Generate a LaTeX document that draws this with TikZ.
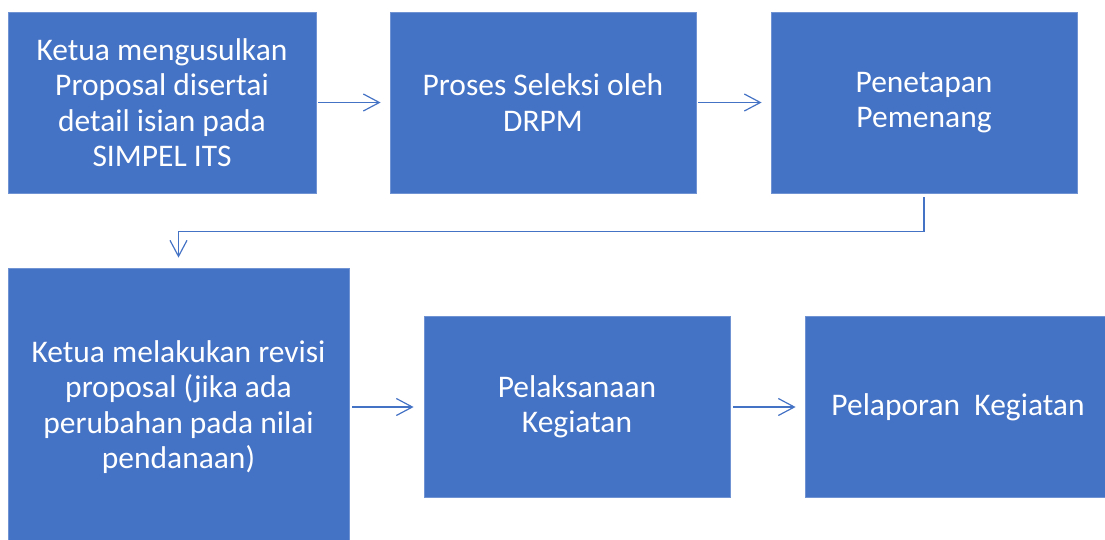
\documentclass[tikz,border=0pt]{standalone}
\usepackage{fontspec}
\setmainfont{Carlito}
\usetikzlibrary{arrows.meta}
\definecolor{boxblue}{HTML}{4472C4}
\definecolor{edgeblue}{HTML}{6F93D3}
\tikzset{
  stepbox/.style={fill=boxblue, draw=edgeblue, line width=0.8pt, text=white,
    align=center, inner sep=0pt, minimum height=181pt,
    font=\fontsize{31.5}{35.5}\selectfont},
  conn/.style={draw=boxblue, line width=1.2pt,
    -{Straight Barb[length=16pt,width=17pt,line width=1.2pt]}}
}
\begin{document}
\begin{tikzpicture}[x=1pt,y=-1pt]
  \useasboundingbox (0,0) rectangle (1105,539);
  \clip (0,0) rectangle (1105,539);

  % Top row
  \node [stepbox, minimum width=308pt] (usul) at (162,102.5)
    {Ketua mengusulkan\\Proposal disertai\\detail isian pada\\SIMPEL ITS};
  \node [stepbox, minimum width=306pt] (seleksi) at (543,102.5)
    {Proses Seleksi oleh\\DRPM};
  \node [stepbox, minimum width=306pt] (pemenang) at (924,102.5)
    {Penetapan\\Pemenang};

  % Bottom row
  \node [stepbox, minimum width=341pt, minimum height=278pt] (revisi) at (178.5,407)
    {Ketua melakukan revisi\\proposal (jika ada\\perubahan pada nilai\\pendanaan)};
  \node [stepbox, minimum width=306pt] (laksana) at (577,407)
    {Pelaksanaan\\Kegiatan};
  \node [stepbox, minimum width=306pt] (lapor) at (958,407)
    {Pelaporan\ \ Kegiatan};

  % Arrows
  \draw [conn, shorten <=2pt, shorten >=9pt] (usul) -- (seleksi);
  \draw [conn, shorten <=2pt, shorten >=9pt] (seleksi) -- (pemenang);
  \draw [conn, shorten <=4pt, shorten >=10pt] (pemenang.south) -- ++(0,38) -| (revisi.north);
  \draw [conn, shorten <=3pt, shorten >=10pt] (revisi) -- (laksana);
  \draw [conn, shorten <=3pt, shorten >=9pt] (laksana) -- (lapor);
\end{tikzpicture}
\end{document}
